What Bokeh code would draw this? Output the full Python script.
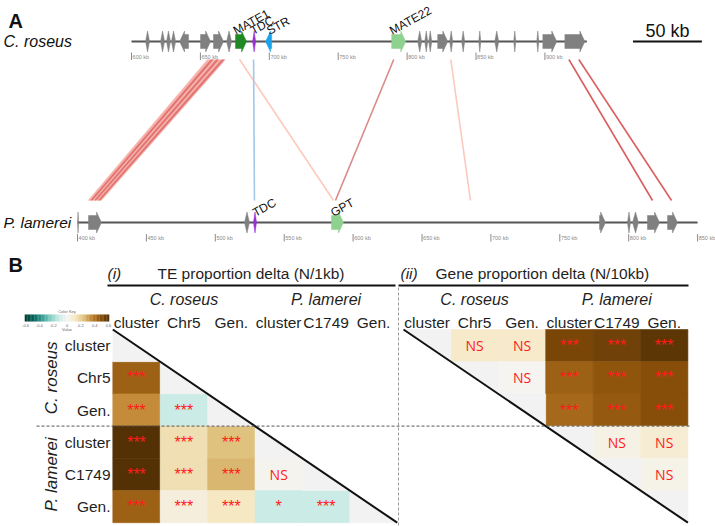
import numpy as np
from bokeh.plotting import figure
from bokeh.models import Range1d, LinearColorMapper, ColumnDataSource
from bokeh.layouts import column
from bokeh.embed import file_html
from bokeh.resources import INLINE
from bokeh.core.properties import value
from bokeh.transform import transform

# ---------------- Panel A data (positions in kb) ----------------
cr_start = [610.2, 621.1, 625.4, 629.0, 634.9, 650.1, 659.5, 669.0, 675.5, 687.9, 697.3,
            788.8, 807.7, 812.8, 815.7, 822.2, 830.9, 839.6, 852.0, 863.6, 877.4, 894.1, 898.5, 914.5]
cr_end = [613.1, 624.0, 628.3, 632.0, 641.4, 657.4, 666.8, 672.6, 683.5, 690.1, 701.7,
          799.0, 810.6, 815.0, 817.9, 829.5, 833.1, 841.8, 853.5, 866.5, 878.9, 895.6, 908.6, 929.0]
cr_strand = [1, 1, 1, 1, -1, 1, 1, 1, 1, 1, -1,
             1, 1, 1, 1, 1, 1, 1, 1, 1, 1, 1, 1, 1]
cr_name = ["", "", "", "", "", "", "", "", "MATE1", "TDC", "STR",
           "MATE22", "", "", "", "", "", "", "", "", "", "", "", ""]
cr_track = [600.0, 930.4]
cr_ticks = [600, 650, 700, 750, 800, 850, 900]

pl_start = [400.0, 408.0, 521.2, 527.7, 584.3, 778.8, 799.1, 802.8, 813.6, 828.2]
pl_end = [400.8, 417.4, 524.8, 529.9, 593.0, 783.2, 801.3, 807.1, 822.4, 835.4]
pl_strand = [1, 1, 1, 1, 1, 1, 1, 1, 1, 1]
pl_name = ["", "", "", "TDC", "GPT", "", "", "", "", ""]
pl_track = [400.0, 850.0]
pl_ticks = [400, 450, 500, 550, 600, 650, 700, 750, 800, 850]

# synteny links: C. roseus kb -> P. lamerei kb
link_top_s = [655.0, 657.5, 661.5, 665.5, 678.4, 688.6, 790.3, 831.7, 917.4, 924.6]
link_top_e = [668.5, 659.5, 663.5, 667.5, 678.4, 688.6, 790.3, 831.7, 917.4, 924.6]
link_bot_s = [407.5, 409.2, 412.0, 414.8, 585.8, 528.4, 587.2, 685.2, 817.3, 831.1]
link_bot_e = [417.5, 410.8, 413.6, 416.4, 585.8, 528.4, 587.2, 685.2, 817.3, 831.1]
link_kind = ["weak", "strong", "strong", "strong", "faint", "inv", "mid", "faint", "strong", "strong"]

scale_bar_kb = 50

# ---------------- Panel B data ----------------
row_labels = ["cluster", "Chr5", "Gen.", "cluster", "C1749", "Gen."]
col_labels = ["cluster", "Chr5", "Gen.", "cluster", "C1749", "Gen."]
groups = ["C. roseus", "P. lamerei"]
# (i) TE proportion delta, lower triangle (row i, cols 0..i-1)
te_delta = [[], [0.44], [0.34, -0.11], [0.62, 0.15, 0.24],
            [0.63, 0.15, 0.26, 0.02], [0.44, 0.06, 0.12, -0.11, -0.11]]
te_sig = [[], ["***"], ["***", "***"], ["***", "***", "***"],
          ["***", "***", "***", "NS"], ["***", "***", "***", "*", "***"]]
# (ii) Gene proportion delta, upper triangle (row i, cols i+1..5)
gene_delta = [[0.10, 0.10, 0.52, 0.54, 0.58], [0.01, 0.44, 0.47, 0.49],
              [0.42, 0.46, 0.49], [0.04, 0.08], [0.03], []]
gene_sig = [["NS", "NS", "***", "***", "***"], ["NS", "***", "***", "***"],
            ["***", "***", "***"], ["NS", "NS"], ["NS"], []]
key_ticks = [-0.6, -0.4, -0.2, 0.0, 0.2, 0.4, 0.6]

# ---------------- styles / layout ----------------
FONT = value("Liberation Sans")
TXT = "#1f1f1f"
GENE_COL = {"": "#808080", "MATE1": "#1f8a24", "TDC": "#9b2fd6", "STR": "#1aa3ec",
            "MATE22": "#8fd18f", "GPT": "#8fd18f"}
LINK_COL = {"weak": "#f4a49c", "strong": "#d95f5f", "faint": "#fcc9bf", "mid": "#d98a8a",
            "inv": "#9fc9ea"}
LINK_ALPHA = {"weak": 0.85, "strong": 0.75, "faint": 1.0, "mid": 1.0, "inv": 1.0}

W = 715
HA, HB = 248, 278
PXKB = 1.378             # pixels per kb
CR_PX0, CR_KB0 = 131.0, 600.0
PL_PX0, PL_KB0 = 77.0, 400.0


def kbx(px):
    return CR_KB0 + (px - CR_PX0) / PXKB


PL_OFF = kbx(PL_PX0) - PL_KB0   # shift of P. lamerei coordinates onto the shared axis
Y_CR, Y_PL = 41.0, 222.0
Y_LTOP, Y_LBOT = 59.0, 200.0
HEAD = 3.6
BH, HH = 7.0, 10.5

pA = figure(width=W, height=HA, x_range=Range1d(kbx(0), kbx(W)), y_range=Range1d(HA, 0),
            output_backend="svg", toolbar_location=None, min_border=0,
            x_axis_location=None, y_axis_location=None, title=None)
pA.grid.visible = False
pA.outline_line_color = None


def gene_poly(s, e, strand, yc):
    L = e - s
    if L < 1.2 * HEAD:
        m = (s + e) / 2
        return [s, m, e, m], [yc, yc - HH, yc, yc + HH]
    if strand > 0:
        b = e - HEAD
        xs = [s, b, b, e, b, b, s]
    else:
        b = s + HEAD
        xs = [e, b, b, s, b, b, e]
    ys = [yc - BH, yc - BH, yc - HH, yc, yc + HH, yc + BH, yc + BH]
    return xs, ys


# links (drawn first)
rib = dict(xs=[], ys=[], c=[], a=[])
seg = dict(x0=[], y0=[], x1=[], y1=[], c=[])
for ts, te, bs, be, k in zip(link_top_s, link_top_e, link_bot_s, link_bot_e, link_kind):
    if te - ts > 0.1:
        rib["xs"].append([ts, te, be + PL_OFF, bs + PL_OFF])
        rib["ys"].append([Y_LTOP, Y_LTOP, Y_LBOT, Y_LBOT])
        rib["c"].append(LINK_COL[k]); rib["a"].append(LINK_ALPHA[k])
    else:
        seg["x0"].append(ts); seg["y0"].append(Y_LTOP)
        seg["x1"].append(bs + PL_OFF); seg["y1"].append(Y_LBOT)
        seg["c"].append(LINK_COL[k])
pA.patches("xs", "ys", source=ColumnDataSource(rib), fill_color="c", fill_alpha="a", line_color=None)
pA.segment("x0", "y0", "x1", "y1", source=ColumnDataSource(seg), line_color="c", line_width=1.6)

# tracks
for trk, off, yc in [(cr_track, 0.0, Y_CR), (pl_track, PL_OFF, Y_PL)]:
    pA.line([trk[0] + off, trk[1] + off], [yc, yc], line_color="#555555", line_width=2)

# ticks
for ticks, off, yt in [(cr_ticks, 0.0, Y_CR + 15), (pl_ticks, PL_OFF, Y_PL + 15.5)]:
    tx = [t + off for t in ticks]
    pA.segment(tx, [yt - 4] * len(tx), tx, [yt + 3.5] * len(tx), line_color="#8a8a8a", line_width=1)
    pA.text([t + 0.8 for t in tx], [yt] * len(tx), text=[f"{t} kb" for t in ticks],
            text_font=FONT, text_font_size="5.5px", text_color="#8a8a8a",
            text_align="left", text_baseline="middle")

# genes
gxs, gys, gc = [], [], []
for st, en, sd, nm, off, yc in (
        [(a, b, c, d, 0.0, Y_CR) for a, b, c, d in zip(cr_start, cr_end, cr_strand, cr_name)] +
        [(a, b, c, d, PL_OFF, Y_PL) for a, b, c, d in zip(pl_start, pl_end, pl_strand, pl_name)]):
    xs, ys = gene_poly(st + off, en + off, sd, yc)
    gxs.append(xs); gys.append(ys); gc.append(GENE_COL[nm])
pA.patches(gxs, gys, fill_color=gc, line_color=gc, line_width=0.5)

# gene name labels
lx, ly, lt = [], [], []
for st, nm in zip(cr_start, cr_name):
    if nm:
        lx.append(st + (1.5 if nm == "STR" else -1.0)); ly.append(Y_CR - 10); lt.append(nm)
for st, nm in zip(pl_start, pl_name):
    if nm:
        lx.append(st + PL_OFF); ly.append(Y_PL - 9); lt.append(nm)
pA.text(lx, ly, text=lt, angle=0.5, text_font=FONT, text_font_size="12px",
        text_color="#111111", text_align="left", text_baseline="alphabetic")

# scale bar
sb0 = kbx(632.5)
pA.line([sb0, sb0 + scale_bar_kb], [Y_CR, Y_CR], line_color="#111111", line_width=2)
pA.text([sb0 + scale_bar_kb / 2], [30.5], text=[f"{scale_bar_kb} kb"], text_font=FONT,
        text_font_size="18px", text_color="#111111", text_align="center", text_baseline="middle")

# panel labels and species
pA.text([kbx(8)], [20.5], text=["A"], text_font=FONT, text_font_size="20px", text_font_style="bold",
        text_color="#111111", text_baseline="middle")
pA.text([kbx(3)], [Y_CR], text=[groups[0]], text_font=FONT, text_font_size="16px",
        text_font_style="italic", text_color="#111111", text_baseline="middle")
pA.text([kbx(3)], [Y_PL], text=[groups[1]], text_font=FONT, text_font_size="15.5px",
        text_font_style="italic", text_color="#111111", text_align="left", text_baseline="middle")

# ---------------- Panel B ----------------
CW, HX0, RH, HY0 = 47.4, 112.3, 32.2, 329.0


def bx(px):
    return (px - HX0) / CW


def by(py):
    return (py - HY0) / RH


RX0 = bx(403.0)

pB = figure(width=W, height=HB, x_range=Range1d(bx(0), bx(W)), y_range=Range1d(by(HA + HB), by(HA)),
            output_backend="svg", toolbar_location=None, min_border=0,
            x_axis_location=None, y_axis_location=None, title=None)
pB.grid.visible = False
pB.outline_line_color = None

stops = ['#003c30', '#01665e', '#35978f', '#80cdc1', '#c7eae5', '#f5f5f5',
         '#f6e8c3', '#dfc27d', '#bf812d', '#8c510a', '#543005']


def _hex(c):
    return np.array([int(c[i:i + 2], 16) for i in (1, 3, 5)], float)


rgb = np.array([_hex(c) for c in stops])
pos = np.linspace(0, 1, len(stops))
tt = np.linspace(0, 1, 241)
palette = ["#%02x%02x%02x" % tuple(int(round(np.interp(t, pos, rgb[:, k]))) for k in range(3)) for t in tt]
mapper = LinearColorMapper(palette=palette, low=-0.6, high=0.6)

cells = dict(x=[], y=[], v=[])
sig_star = dict(x=[], y=[], t=[])
sig_ns = dict(x=[], y=[], t=[])
for i in range(6):
    for j, (v, s) in enumerate(zip(te_delta[i], te_sig[i])):
        cells["x"].append(j + 0.5); cells["y"].append(i + 0.5); cells["v"].append(v)
        d = sig_ns if s == "NS" else sig_star
        d["x"].append(j + 0.5); d["y"].append(i + 0.5); d["t"].append(s)
    for k, (v, s) in enumerate(zip(gene_delta[i], gene_sig[i])):
        j = i + 1 + k
        cells["x"].append(RX0 + j + 0.5); cells["y"].append(i + 0.5); cells["v"].append(v)
        d = sig_ns if s == "NS" else sig_star
        d["x"].append(RX0 + j + 0.5); d["y"].append(i + 0.5); d["t"].append(s)

pB.rect("x", "y", width=1, height=1, source=ColumnDataSource(cells),
        fill_color=transform("v", mapper), line_color=transform("v", mapper), line_width=0.6)

# NA diagonal cells (half on the coloured side)
dxs, dys = [], []
for i in range(6):
    dxs.append([i, i, i + 1]); dys.append([i, i + 1, i + 1])
    dxs.append([RX0 + i, RX0 + i + 1, RX0 + i + 1]); dys.append([i, i, i + 1])
pB.patches(dxs, dys, fill_color="#f2f2f2", line_color="#f2f2f2", line_width=0.5)

# significance
pB.text("x", "y", text="t", source=ColumnDataSource(sig_star), text_font=FONT, text_font_size="16px",
        text_color="#ff1a1a", text_align="center", text_baseline="middle")
pB.text("x", "y", text="t", source=ColumnDataSource(sig_ns), text_font=value("Open Sans"),
        text_font_size="14px", text_color="#ff1a1a", text_align="center", text_baseline="middle")

# diagonals
pB.line([0, 6], [0, 6], line_color="#111111", line_width=2)
pB.line([RX0, RX0 + 6], [0, 6], line_color="#111111", line_width=2)

# dashed separators
pB.line([bx(36), bx(690)], [3, 3], line_color="#555555", line_width=1, line_dash="3 2")
pB.line([bx(398), bx(398)], [by(287), by(530)], line_color="#999999", line_width=1, line_dash="3 2")

# header rules
pB.line([bx(107), bx(395)], [by(285), by(285)], line_color="#111111", line_width=2)
pB.line([bx(398), bx(688)], [by(285), by(285)], line_color="#111111", line_width=2)

# titles
pB.text([bx(8)], [by(264.5)], text=["B"], text_font=FONT, text_font_size="20px", text_font_style="bold",
        text_color="#111111", text_baseline="middle")
pB.text([bx(107), bx(400)], [by(272.5)] * 2, text=["(i)", "(ii)"], text_font=FONT, text_font_size="15.5px",
        text_font_style="italic", text_color=TXT, text_baseline="middle")
pB.text([bx(157), bx(435)], [by(272.5)] * 2, text=["TE proportion delta (N/1kb)", "Gene proportion delta (N/10kb)"],
        text_font=FONT, text_font_size="15.5px", text_color=TXT, text_baseline="middle")

# group headers
pB.text([1.5, 4.5, RX0 + 1.5, RX0 + 4.5], [by(298.5)] * 4, text=groups * 2, text_font=FONT,
        text_font_size="16px", text_font_style="italic", text_color=TXT, text_align="center",
        text_baseline="middle")
# column labels
cx = [j + 0.5 for j in range(6)] + [RX0 + j + 0.5 for j in range(6)]
pB.text(cx, [by(321.5)] * 12, text=col_labels * 2, text_font=FONT, text_font_size="15.5px",
        text_color=TXT, text_align="center", text_baseline="middle")
# row labels
pB.text([bx(110)] * 6, [i + 0.5 for i in range(6)], text=row_labels, text_font=FONT,
        text_font_size="15.5px", text_color=TXT, text_align="right", text_baseline="middle")
# rotated group labels
pB.text([bx(51), bx(51)], [1.5, 4.5], text=groups, angle=np.pi / 2, text_font=FONT,
        text_font_size="17px", text_font_style="italic", text_color=TXT, text_align="center",
        text_baseline="middle")

# colour key
KX0, KX1, KY0, KY1 = 25.0, 108.0, 314.0, 321.0
kv = np.linspace(-0.6, 0.6, 61)
key_src = ColumnDataSource(dict(
    x=[bx(KX0 + (v + 0.6) / 1.2 * (KX1 - KX0)) for v in kv],
    y=[by((KY0 + KY1) / 2)] * len(kv), v=list(kv)))
pB.rect("x", "y", width=(KX1 - KX0) / 60 / CW * 1.15, height=(KY1 - KY0) / RH, source=key_src,
        fill_color=transform("v", mapper), line_color=None)
pB.text([bx(KX0 + (v + 0.6) / 1.2 * (KX1 - KX0)) for v in key_ticks], [by(325)] * len(key_ticks),
        text=[f"{v:g}" for v in key_ticks], text_font=FONT, text_font_size="4px", text_color="#666666",
        text_align="center", text_baseline="middle")
pB.text([bx((KX0 + KX1) / 2)] * 2, [by(310.5), by(329)], text=["Color Key", "Value"], text_font=FONT,
        text_font_size="4px", text_color="#666666", text_align="center", text_baseline="middle")

layout = column(pA, pB)
open("out.html", "w").write(file_html(layout, INLINE))
